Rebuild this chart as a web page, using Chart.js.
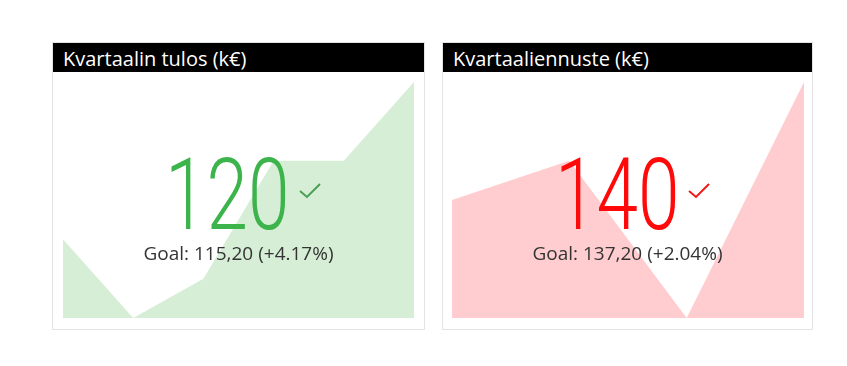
<!DOCTYPE html>
<html>
<head>
<meta charset="utf-8">
<script src="https://cdn.jsdelivr.net/npm/chart.js@4"></script>
<style>
  body { margin: 0; background: #fff; width: 847px; height: 366px; position: relative; overflow: hidden; }
  .card { position: absolute; top: 42px; height: 288px; box-sizing: border-box; border: 1px solid #e3e3e3; background: #fff; }
  .title { position: absolute; left: 0; top: 0; right: 0; height: 29px; background: #000; color: #fff;
           font-family: "Open Sans", sans-serif; font-size: 20px; line-height: 29px; padding-left: 10px; padding-top: 1px; box-sizing: border-box; overflow: hidden; white-space: nowrap; }
  .plot { position: absolute; top: 39px; height: 236px; }
  .value { position: absolute; top: 102px; font-family: Roboto, sans-serif; font-weight: 300; font-size: 101px; line-height: 100px;
           transform: scaleX(0.74); transform-origin: left top; white-space: nowrap; }
  .check { position: absolute; top: 140px; }
  .goal { position: absolute; left: 0; right: 0; top: 200px; text-align: center; font-family: "Open Sans", sans-serif;
          font-size: 19px; line-height: 20px; color: #333; }
</style>
</head>
<body>
<div class="card" id="card1" style="left:52px; width:373px;">
  <div class="title">Kvartaalin tulos (k€)</div>
  <div class="plot" style="left:10px; width:351px;"><canvas id="chart1"></canvas></div>
  <div class="value" id="value1" style="left:112px; color:#3cb44b;"></div>
  <svg class="check" style="left:245px;" width="26" height="20"><polyline points="2,8 9,14 22,1" fill="none" stroke="#4a9f55" stroke-width="2"/></svg>
  <div class="goal" id="goal1"></div>
</div>
<div class="card" id="card2" style="left:442px; width:371px;">
  <div class="title">Kvartaaliennuste (k€)</div>
  <div class="plot" style="left:9px; width:352px;"><canvas id="chart2"></canvas></div>
  <div class="value" id="value2" style="left:112px; color:#ff0a0a;"></div>
  <svg class="check" style="left:244px;" width="26" height="20"><polyline points="2,8 9,14 22,1" fill="none" stroke="#f01818" stroke-width="2"/></svg>
  <div class="goal" id="goal2"></div>
</div>
<script>
// Kvartaalin tulos, trendi (k€)
const tulosLabels = ['Q1', 'Q2', 'Q3', 'Q4', 'Q5', 'Q6'];
const tulosValues = [80, 60, 70, 100, 100, 120];
const tulosGoal = 115.20;

// Kvartaaliennuste, trendi (k€)
const ennusteLabels = ['Q1', 'Q2', 'Q3', 'Q4'];
const ennusteValues = [110, 120, 80, 140];
const ennusteGoal = 137.20;

// Piirtää taustalla olevan aluekaavion
function drawTrend(canvasId, labels, values, fillColor) {
    const ctx = document.getElementById(canvasId).getContext('2d');
    new Chart(ctx, {
        type: 'line',
        data: {
            labels: labels,
            datasets: [{
                data: values,
                fill: 'start',
                backgroundColor: fillColor,
                borderWidth: 0,
                pointRadius: 0,
                tension: 0
            }]
        },
        options: {
            responsive: true,
            maintainAspectRatio: false,
            animation: false,
            layout: { padding: 0 },
            plugins: { legend: { display: false }, tooltip: { enabled: false } },
            scales: {
                x: { display: false },
                y: { display: false, min: Math.min(...values), max: Math.max(...values) }
            }
        }
    });
}

// KPI-luku ja tavoiteteksti
function fillKpi(valueId, goalId, values, goal) {
    const last = values[values.length - 1];
    const pct = (last - goal) / goal * 100;
    document.getElementById(valueId).textContent = last;
    document.getElementById(goalId).textContent =
        'Goal: ' + goal.toFixed(2).replace('.', ',') + ' (+' + pct.toFixed(2) + '%)';
}

drawTrend('chart1', tulosLabels, tulosValues, '#d6eed6');
drawTrend('chart2', ennusteLabels, ennusteValues, '#ffcdd0');
fillKpi('value1', 'goal1', tulosValues, tulosGoal);
fillKpi('value2', 'goal2', ennusteValues, ennusteGoal);
</script>
</body>
</html>
